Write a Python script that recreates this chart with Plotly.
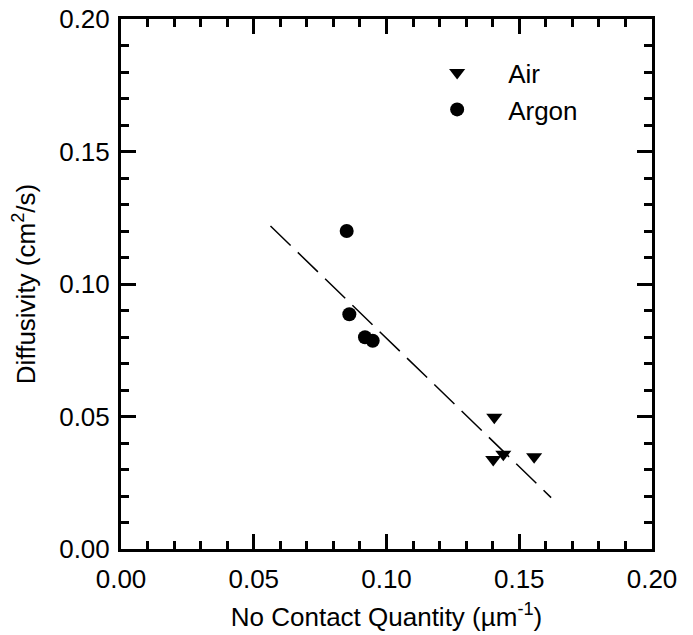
import plotly.graph_objects as go

# Data
air_x = [0.1406, 0.1402, 0.1440, 0.1556]
air_y = [0.0497, 0.0338, 0.0358, 0.0348]

argon_x = [0.0850, 0.0860, 0.0919, 0.0948]
argon_y = [0.1200, 0.0886, 0.0799, 0.0786]

fit_x = [0.0563, 0.1620]
fit_y = [0.1219, 0.0194]

x_ticks = [0.00, 0.05, 0.10, 0.15, 0.20]
y_ticks = [0.00, 0.05, 0.10, 0.15, 0.20]

FONT = "Liberation Sans, Arial, Helvetica, sans-serif"

fig = go.Figure()

fig.add_trace(go.Scatter(
    x=fit_x, y=fit_y, mode="lines",
    line=dict(color="black", width=1.5, dash="28px,10px"),
    showlegend=False, hoverinfo="skip",
))

fig.add_trace(go.Scatter(
    x=air_x, y=air_y, mode="markers", name="Air",
    marker=dict(symbol="triangle-down", size=14, color="black",
                line=dict(width=0)),
))

fig.add_trace(go.Scatter(
    x=argon_x, y=argon_y, mode="markers", name="Argon",
    marker=dict(symbol="circle", size=14, color="black",
                line=dict(width=0)),
))

axis_common = dict(
    showgrid=False, zeroline=False, automargin=False,
    showline=True, linecolor="black", linewidth=3, mirror="ticks",
    ticks="inside", ticklen=15, tickwidth=3, tickcolor="black",
    minor=dict(dtick=0.01, ticks="inside", ticklen=8, tickwidth=2.5,
               tickcolor="black", showgrid=False),
    tickfont=dict(family=FONT, size=26, color="black"),
    tickformat=".2f",
)

fig.update_layout(
    width=693, height=635,
    margin=dict(l=121, r=41, t=19, b=86),
    paper_bgcolor="white", plot_bgcolor="white",
    font=dict(family=FONT, size=26, color="black"),
    xaxis=dict(range=[0, 0.2], tickvals=x_ticks, ticklabelstandoff=5,
               title=dict(text="No Contact Quantity (µm<sup>-1</sup>)",
                          font=dict(family=FONT, size=26, color="black"),
                          standoff=15),
               **axis_common),
    yaxis=dict(range=[0, 0.2], tickvals=y_ticks, ticklabelstandoff=3,
               title=dict(text="Diffusivity (cm<sup>2</sup>/s)",
                          font=dict(family=FONT, size=26, color="black"),
                          standoff=17),
               **axis_common),
    legend=dict(
        x=0.537, y=0.943, xanchor="left", yanchor="top",
        bgcolor="rgba(0,0,0,0)", borderwidth=0,
        font=dict(family=FONT, size=26, color="black"),
        itemwidth=92,
    ),
)

fig.write_html(
    "out.html",
    config={"displayModeBar": False},
    post_script="document.body.style.margin='0px';"
                "document.body.style.overflow='hidden';",
)
